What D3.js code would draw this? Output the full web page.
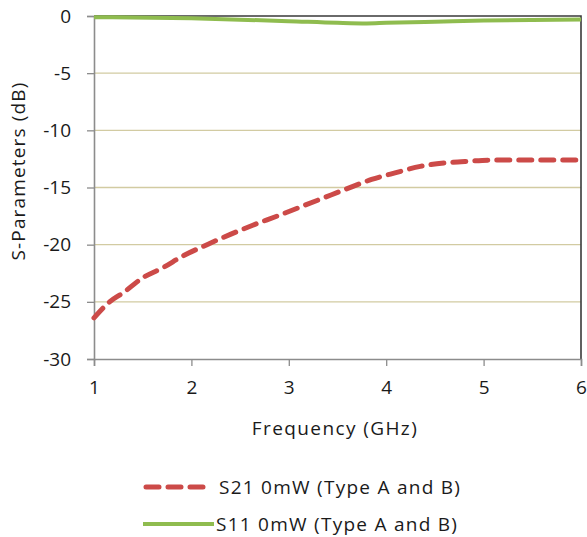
<!DOCTYPE html>
<html><head><meta charset="utf-8">
<script src="https://cdn.jsdelivr.net/npm/d3@7"></script>
<style>body{margin:0;background:#fff;}svg{display:block;font-family:"Open Sans",sans-serif;}</style>
</head><body><svg id="c" width="587" height="537"></svg>
<script>
const s21Freq = [1, 1.16, 1.3, 1.5, 1.71, 1.91, 2.16, 2.4, 2.63, 2.88, 3.12, 3.36, 3.6, 3.85, 4.1, 4.35, 4.6, 4.85, 5.1, 5.35, 5.6, 6];
const s21Vals = [-26.4, -25.0, -24.2, -22.9, -22.0, -21.0, -20.0, -19.1, -18.3, -17.5, -16.7, -15.9, -15.1, -14.3, -13.7, -13.15, -12.85, -12.7, -12.6, -12.6, -12.6, -12.6];
const s11Freq = [1, 2, 3, 3.5, 3.8, 4, 4.5, 5, 5.5, 6];
const s11Vals = [-0.1, -0.2, -0.45, -0.6, -0.65, -0.6, -0.5, -0.4, -0.35, -0.3];
const xTicks = [1, 2, 3, 4, 5, 6];
const yTicks = [0, -5, -10, -15, -20, -25, -30];
const seriesNames = ["S21 0mW (Type A and B)", "S11 0mW (Type A and B)"];

const svg = d3.select("#c");
const L = 94, R = 581, T = 16, B = 359;
const x = d3.scaleLinear().domain([1, 6]).range([L, R]);
const y = d3.scaleLinear().domain([-30, 0]).range([B, T]);
const FS = 19;

svg.append("g").selectAll("line").data(yTicks.filter(d => d !== 0 && d !== -30)).join("line")
  .attr("x1", L).attr("x2", R).attr("y1", d => y(d)).attr("y2", d => y(d))
  .attr("stroke", "#d2cba2").attr("stroke-width", 1.4);

svg.append("path").attr("d", `M${L},${T}H${R}V${B}`).attr("fill", "none").attr("stroke", "#3a3a3a").attr("stroke-width", 1.6);

const xAxis = svg.append("g").attr("transform", `translate(0,${B})`)
  .call(d3.axisBottom(x).tickValues(xTicks).tickSize(7).tickPadding(15).tickFormat(d3.format("d")));
const yAxis = svg.append("g").attr("transform", `translate(${L},0)`)
  .call(d3.axisLeft(y).tickValues(yTicks).tickSize(7).tickPadding(16).tickFormat(d => d === 0 ? "0" : "-" + Math.abs(d)));
[xAxis, yAxis].forEach(a => {
  a.select(".domain").attr("stroke", "#8c8c8c").attr("stroke-width", 1.6);
  a.selectAll(".tick line").attr("stroke", "#8c8c8c").attr("stroke-width", 1.3);
  a.selectAll("text").attr("fill", "#1a1a1a").attr("font-size", FS).attr("font-family", "'Open Sans', sans-serif");
});

const line = d3.line().x(d => x(d[0])).y(d => y(d[1])).curve(d3.curveMonotoneX);
svg.append("path").datum(s11Freq.map((f, i) => [f, s11Vals[i]]))
  .attr("d", line).attr("fill", "none").attr("stroke", "#8fbc4f").attr("stroke-width", 4);
svg.append("path").datum(s21Freq.map((f, i) => [f, s21Vals[i]]))
  .attr("d", line).attr("fill", "none").attr("stroke", "#cc4a48").attr("stroke-width", 5)
  .attr("stroke-dasharray", "13,9").attr("stroke-linecap", "round");

function fit(sel, w) {
  sel.each(function() {
    const cur = this.getComputedTextLength();
    const n = this.textContent.length;
    if (n > 1) d3.select(this).attr("letter-spacing", ((w - cur) / (n - 1)).toFixed(2));
  });
}

svg.append("text").attr("x", 335).attr("y", 435).attr("text-anchor", "middle")
  .attr("font-size", FS).attr("fill", "#1a1a1a").text("Frequency (GHz)").call(fit, 165);
svg.append("text").attr("transform", "translate(25,171) rotate(-90)").attr("text-anchor", "middle")
  .attr("font-size", FS).attr("fill", "#1a1a1a").text("S-Parameters (dB)").call(fit, 178);

const lg = svg.append("g");
lg.append("line").attr("x1", 146).attr("x2", 208).attr("y1", 487).attr("y2", 487)
  .attr("stroke", "#cc4a48").attr("stroke-width", 5).attr("stroke-dasharray", "13,9").attr("stroke-linecap", "round");
lg.append("line").attr("x1", 143).attr("x2", 214).attr("y1", 524).attr("y2", 524)
  .attr("stroke", "#8fbc4f").attr("stroke-width", 4);
lg.selectAll("text").data(seriesNames).join("text")
  .attr("x", (d, i) => i === 0 ? 219 : 216).attr("y", (d, i) => i === 0 ? 494 : 531)
  .attr("font-size", FS).attr("fill", "#1a1a1a").text(d => d).call(fit, 241);
</script></body></html>
